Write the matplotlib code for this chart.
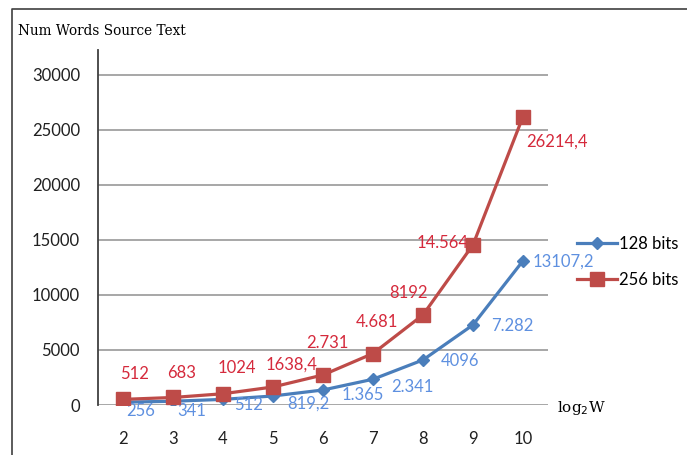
import matplotlib.pyplot as plt
from matplotlib.lines import Line2D

# ================== 数据 ==================
log2w = [2, 3, 4, 5, 6, 7, 8, 9, 10]
bits128 = [256, 341, 512, 819.2, 1365, 2341, 4096, 7282, 13107.2]
bits256 = [512, 683, 1024, 1638.4, 2731, 4681, 8192, 14564, 26214.4]
labels128 = ["256", "341", "512", "819,2", "1.365", "2.341", "4096", "7.282", "13107,2"]
labels256 = ["512", "683", "1024", "1638,4", "2.731", "4.681", "8192", "14.564", "26214,4"]

# label offsets (pixels, x right / y up)
off128 = [(18, -9), (19, -10), (26, -6), (35, -8), (40, -5), (39, -8), (37, -1), (39, -1), (40, -1)]
off256 = [(12, 25), (9, 24), (14, 26), (19, 22), (4, 32), (4, 32), (-15, 22), (-30, 2), (34, -25)]

blue = "#4A7EBB"
red = "#BE4B48"
blue_txt = "#5E90E0"
red_txt = "#D52A3C"

fig = plt.figure(figsize=(6.87, 4.55), dpi=100)
ax = fig.add_axes([98 / 687, 1 - 405 / 455, 450 / 687, 355 / 455])

ax.plot(log2w, bits128, color=blue, lw=2.3, marker="D", ms=6.5, zorder=3, label="128 bits")
ax.plot(log2w, bits256, color=red, lw=2.3, marker="s", ms=9.5, zorder=4, label="256 bits")

for x, y, t, o in zip(log2w, bits128, labels128, off128):
    ax.annotate(t, (x, y), xytext=o, textcoords="offset pixels", ha="center", va="center",
                color=blue_txt, fontsize=12, family="Lato")
for x, y, t, o in zip(log2w, bits256, labels256, off256):
    ax.annotate(t, (x, y), xytext=o, textcoords="offset pixels", ha="center", va="center",
                color=red_txt, fontsize=12, family="Lato")

ax.set_xlim(1.5, 10.5)
ax.set_ylim(0, 32270)
ax.set_yticks(range(0, 30001, 5000))
ax.set_xticks(log2w)
ax.grid(axis="y", color="#A0A0A0", lw=1.3)
ax.set_axisbelow(True)
for s in ["top", "right", "bottom"]:
    ax.spines[s].set_visible(False)
ax.spines["left"].set_color("#404040")
ax.spines["left"].set_linewidth(1.3)
ax.tick_params(length=0)
ax.tick_params(axis="y", pad=13, labelsize=12)
ax.tick_params(axis="x", pad=19, labelsize=12)
for lbl in ax.get_xticklabels() + ax.get_yticklabels():
    lbl.set_family("Lato")
    lbl.set_color("#202020")

# 图例
handles = [Line2D([], [], color=blue, lw=2.3, marker="D", ms=6.5),
           Line2D([], [], color=red, lw=2.3, marker="s", ms=9.5)]
leg = fig.legend(handles, ["128 bits", "256 bits"], loc="center left",
                 bbox_to_anchor=(562 / 687, 1 - 262 / 455), frameon=False,
                 handlelength=2.4, handletextpad=0.1, labelspacing=1.2,
                 prop={"family": "Lato", "size": 12})

fig.text(18 / 687, 1 - 31 / 455, "Num Words Source Text", family="DejaVu Serif",
         fontsize=9.8, va="center", ha="left")
fig.text(557 / 687, 1 - 408 / 455, r"log$_2$W", family="DejaVu Serif",
         fontsize=11, va="center", ha="left")

# 外框
fig.add_artist(Line2D([12 / 687, 12 / 687, 1], [0, 1 - 9 / 455, 1 - 9 / 455],
                      transform=fig.transFigure, color="#404040", lw=1.2))

fig.savefig("out.png", dpi=100)
